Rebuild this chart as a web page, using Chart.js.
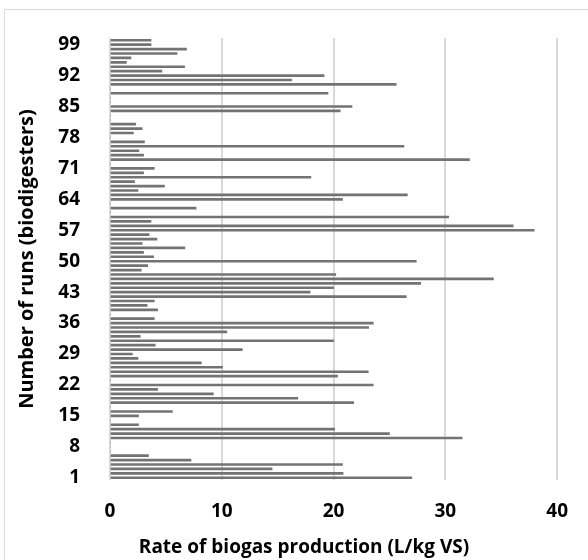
<!DOCTYPE html>
<html>
<head>
<meta charset="utf-8">
<script src="https://cdn.jsdelivr.net/npm/chart.js@4.4.1/dist/chart.umd.min.js"></script>
<style>
  html, body { margin: 0; padding: 0; background: #fff; }
  #wrap { width: 588px; height: 560px; }
</style>
</head>
<body>
<div id="wrap"><canvas id="c1" width="588" height="560"></canvas></div>
<script>
var runs = [
  '1','2','3','4','5','6','7','8','9','10',
  '11','12','13','14','15','16','17','18','19','20',
  '21','22','23','24','25','26','27','28','29','30',
  '31','32','33','34','35','36','37','38','39','40',
  '41','42','43','44','45','46','47','48','49','50',
  '51','52','53','54','55','56','57','58','59','60',
  '61','62','63','64','65','66','67','68','69','70',
  '71','72','73','74','75','76','77','78','79','80',
  '81','82','83','84','85','86','87','88','89','90',
  '91','92','93','94','95','96','97','98','99','100'
];

var biogasRate = [
  27.0, 20.85, 14.5, 20.8, 7.25, 3.44, 0, 0, 0, 31.5,
  25.0, 20.1, 2.55, 0, 2.55, 5.58, 0, 21.8, 16.8, 9.25,
  4.26, 23.55, 0, 20.35, 23.1, 10.07, 8.17, 2.5, 2.0, 11.83,
  4.05, 20.0, 2.7, 10.45, 23.14, 23.55, 3.96, 0, 4.26, 3.32,
  3.96, 26.5, 17.9, 20.0, 27.8, 34.3, 20.2, 2.8, 3.38, 27.4,
  3.9, 3.0, 6.7, 2.88, 4.2, 3.5, 37.95, 36.07, 3.67, 30.3,
  0, 7.7, 0, 20.8, 26.6, 2.5, 4.87, 2.2, 17.97, 3.0,
  3.96, 0, 32.16, 3.0, 2.58, 26.3, 3.08, 0, 2.09, 2.88,
  2.29, 0, 0, 20.6, 21.65, 0, 0, 19.5, 0, 25.6,
  16.24, 19.15, 4.64, 6.67, 1.47, 1.88, 6.0, 6.84, 3.67, 3.67
];

var xTicks = [0, 10, 20, 30, 40];

var fontFamily = '"Open Sans", "Noto Sans", sans-serif';

var frameAndTitle = {
  id: 'frameAndTitle',
  beforeDraw: function (chart) {
    var c = chart.ctx;
    c.save();
    c.strokeStyle = '#d9d9d9';
    c.lineWidth = 1;
    c.beginPath();
    c.moveTo(4.5, 600);
    c.lineTo(4.5, 9.5);
    c.lineTo(600, 9.5);
    c.stroke();
    c.restore();
  },
  afterDraw: function (chart) {
    var c = chart.ctx;
    c.save();
    c.fillStyle = '#000';
    c.font = '700 19px ' + fontFamily;
    c.textAlign = 'center';
    c.textBaseline = 'middle';
    c.fillText('Rate of biogas production (L/kg VS)', 304, 548);
    c.restore();
  }
};

var ctx = document.getElementById('c1');
var myBarChart = new Chart(ctx, {
  type: 'bar',
  data: {
    labels: runs,
    datasets: [{
      label: 'Rate of biogas production',
      data: biogasRate,
      backgroundColor: '#737373',
      borderWidth: 0,
      barThickness: 2
    }]
  },
  options: {
    indexAxis: 'y',
    responsive: false,
    animation: false,
    layout: {
      padding: { top: 38, right: 23, left: 0, bottom: 0 }
    },
    plugins: {
      legend: { display: false },
      tooltip: { enabled: false }
    },
    scales: {
      x: {
        min: 0,
        max: 40,
        afterFit: function (scale) { scale.height = 80; },
        afterBuildTicks: function (scale) {
          scale.ticks = xTicks.map(function (v) { return { value: v }; });
        },
        grid: {
          color: '#d9d9d9',
          lineWidth: 2,
          drawTicks: false
        },
        border: { display: false },
        ticks: {
          color: '#000',
          padding: 20,
          font: { family: fontFamily, size: 19, weight: 700 }
        }
      },
      y: {
        reverse: true,
        afterFit: function (scale) { scale.width = 110; },
        grid: { display: false },
        border: { display: false },
        ticks: {
          autoSkip: false,
          color: '#000',
          padding: 22,
          font: { family: fontFamily, size: 19, weight: 700 },
          callback: function (value, index) {
            return index % 7 === 0 ? runs[index] : '';
          }
        },
        title: {
          display: true,
          text: 'Number of runs (biodigesters)',
          color: '#000',
          padding: { top: 15, bottom: 0 },
          font: { family: fontFamily, size: 20, weight: 700 }
        }
      }
    }
  },
  plugins: [frameAndTitle]
});
</script>
</body>
</html>
